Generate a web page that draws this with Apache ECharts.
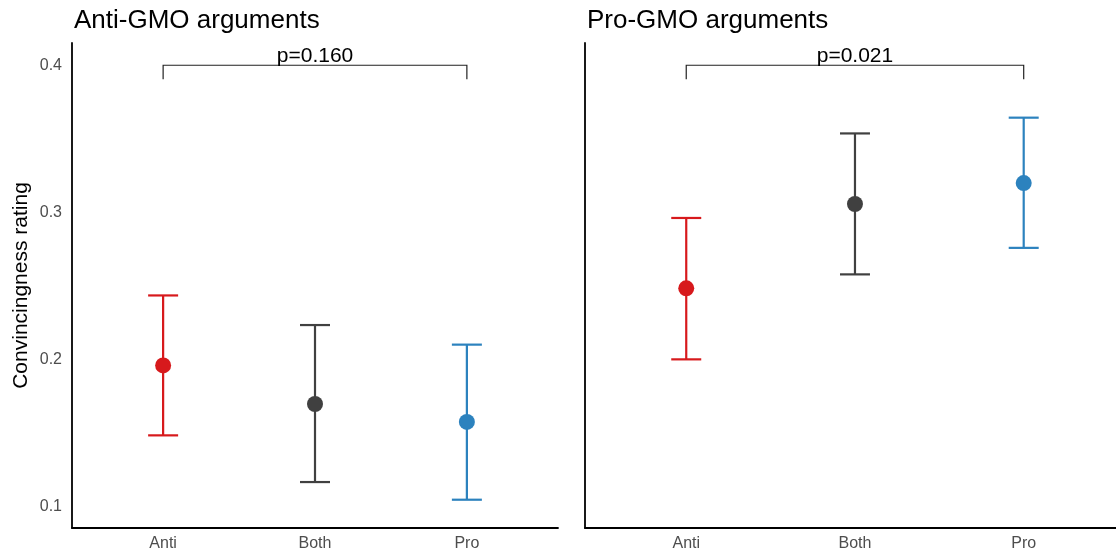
<!DOCTYPE html>
<html>
<head>
<meta charset="utf-8">
<script src="https://cdn.jsdelivr.net/npm/echarts@6/dist/echarts.min.js"></script>
<style>html,body{margin:0;padding:0;background:#fff}#c{width:1116px;height:557px}</style>
</head>
<body>
<div id="c"></div>
<script>
// ---- data ----
const panels = ['Anti-GMO arguments', 'Pro-GMO arguments'];
const categories = ['Anti', 'Both', 'Pro'];
const yTicks = [0.1, 0.2, 0.3, 0.4];
// panel 1: Anti-GMO arguments
const antiMean = [0.1962, 0.1700, 0.1578];
const antiLow  = [0.1487, 0.1170, 0.1050];
const antiHigh = [0.2437, 0.2236, 0.2103];
// panel 2: Pro-GMO arguments
const proMean = [0.2485, 0.3058, 0.3200];
const proLow  = [0.2003, 0.2580, 0.2760];
const proHigh = [0.2963, 0.3537, 0.3644];
// significance brackets
const pLabels = ['p=0.160', 'p=0.021'];
const bracketY = 0.4;

// ---- styles ----
const colors = ['#d7191c', '#404040', '#2c82be'];
const FONT = '"Liberation Sans", Arial, Helvetica, sans-serif';
const xMax = [3.6, 3.547];   // right panel is cut off by the image edge

const chart = echarts.init(document.getElementById('c'));

function xAxisFor(i) {
  return {
    type: 'value', gridIndex: i, min: 0.4, max: xMax[i],
    axisLine: { show: true, onZero: false, lineStyle: { color: '#000', width: 1.8 } },
    axisTick: { show: false },
    splitLine: { show: false },
    axisLabel: {
      customValues: [1, 2, 3],
      formatter: v => categories[Math.round(v) - 1] || '',
      color: '#4d4d4d', fontSize: 16, fontFamily: FONT, margin: 8
    }
  };
}
function yAxisFor(i) {
  return {
    type: 'value', gridIndex: i, min: 0.0858, max: 0.4151,
    name: i === 0 ? 'Convincingness rating' : '',
    nameLocation: 'middle', nameGap: 40,
    nameTextStyle: { color: '#000', fontSize: 21, fontFamily: FONT },
    axisLine: { show: true, onZero: false, lineStyle: { color: '#000', width: 1.8 } },
    axisTick: { show: false },
    splitLine: { show: false },
    axisLabel: {
      show: i === 0,
      customValues: yTicks,
      formatter: v => v.toFixed(1),
      color: '#4d4d4d', fontSize: 16, fontFamily: FONT, margin: 10
    }
  };
}

function errorSeries(i, low, high) {
  return {
    type: 'custom', xAxisIndex: i, yAxisIndex: i, z: 2,
    data: categories.map((c, k) => [k + 1, low[k], high[k], k]),
    renderItem: function (params, api) {
      const x = api.value(0);
      const lo = api.coord([x, api.value(1)]);
      const hi = api.coord([x, api.value(2)]);
      const col = colors[api.value(3)];
      const hw = 15;
      const st = { stroke: col, lineWidth: 2.2, fill: null };
      return {
        type: 'group',
        children: [
          { type: 'line', shape: { x1: lo[0], y1: lo[1], x2: hi[0], y2: hi[1] }, style: st },
          { type: 'line', shape: { x1: lo[0] - hw, y1: lo[1], x2: lo[0] + hw, y2: lo[1] }, style: st },
          { type: 'line', shape: { x1: hi[0] - hw, y1: hi[1], x2: hi[0] + hw, y2: hi[1] }, style: st }
        ]
      };
    }
  };
}
function pointSeries(i, mean) {
  return {
    type: 'scatter', xAxisIndex: i, yAxisIndex: i, z: 3,
    symbol: 'circle', symbolSize: 16,
    data: mean.map((v, k) => ({ value: [k + 1, v], itemStyle: { color: colors[k], opacity: 1 } })),
    emphasis: { disabled: true }
  };
}
function bracketSeries(i) {
  return {
    type: 'custom', xAxisIndex: i, yAxisIndex: i, z: 1,
    data: [[1, 3, bracketY]],
    renderItem: function (params, api) {
      const a = api.coord([api.value(0), api.value(2)]);
      const b = api.coord([api.value(1), api.value(2)]);
      const mid = api.coord([(api.value(0) + api.value(1)) / 2, api.value(2)]);
      const tick = 14;
      return {
        type: 'group',
        children: [
          { type: 'polyline',
            shape: { points: [[a[0], a[1] + tick], [a[0], a[1]], [b[0], b[1]], [b[0], b[1] + tick]] },
            style: { stroke: '#222', lineWidth: 1.2, fill: null } },
          { type: 'text', x: mid[0], y: mid[1] + 1,
            style: { text: pLabels[i], fill: '#000', fontSize: 21, fontFamily: FONT,
                     align: 'center', verticalAlign: 'bottom' } }
        ]
      };
    }
  };
}

chart.setOption({
  animation: false,
  backgroundColor: '#fff',
  title: [
    { text: panels[0], left: 69, top: 3, textStyle: { color: '#000', fontSize: 26, fontWeight: 'normal', fontFamily: FONT } },
    { text: panels[1], left: 582, top: 3, textStyle: { color: '#000', fontSize: 26, fontWeight: 'normal', fontFamily: FONT } }
  ],
  grid: [
    { left: 72, width: 486, top: 43, bottom: 29 },
    { left: 585, right: 0, top: 43, bottom: 29 }
  ],
  xAxis: [xAxisFor(0), xAxisFor(1)],
  yAxis: [yAxisFor(0), yAxisFor(1)],
  series: [
    errorSeries(0, antiLow, antiHigh), pointSeries(0, antiMean), bracketSeries(0),
    errorSeries(1, proLow, proHigh), pointSeries(1, proMean), bracketSeries(1)
  ]
});
</script>
</body>
</html>
